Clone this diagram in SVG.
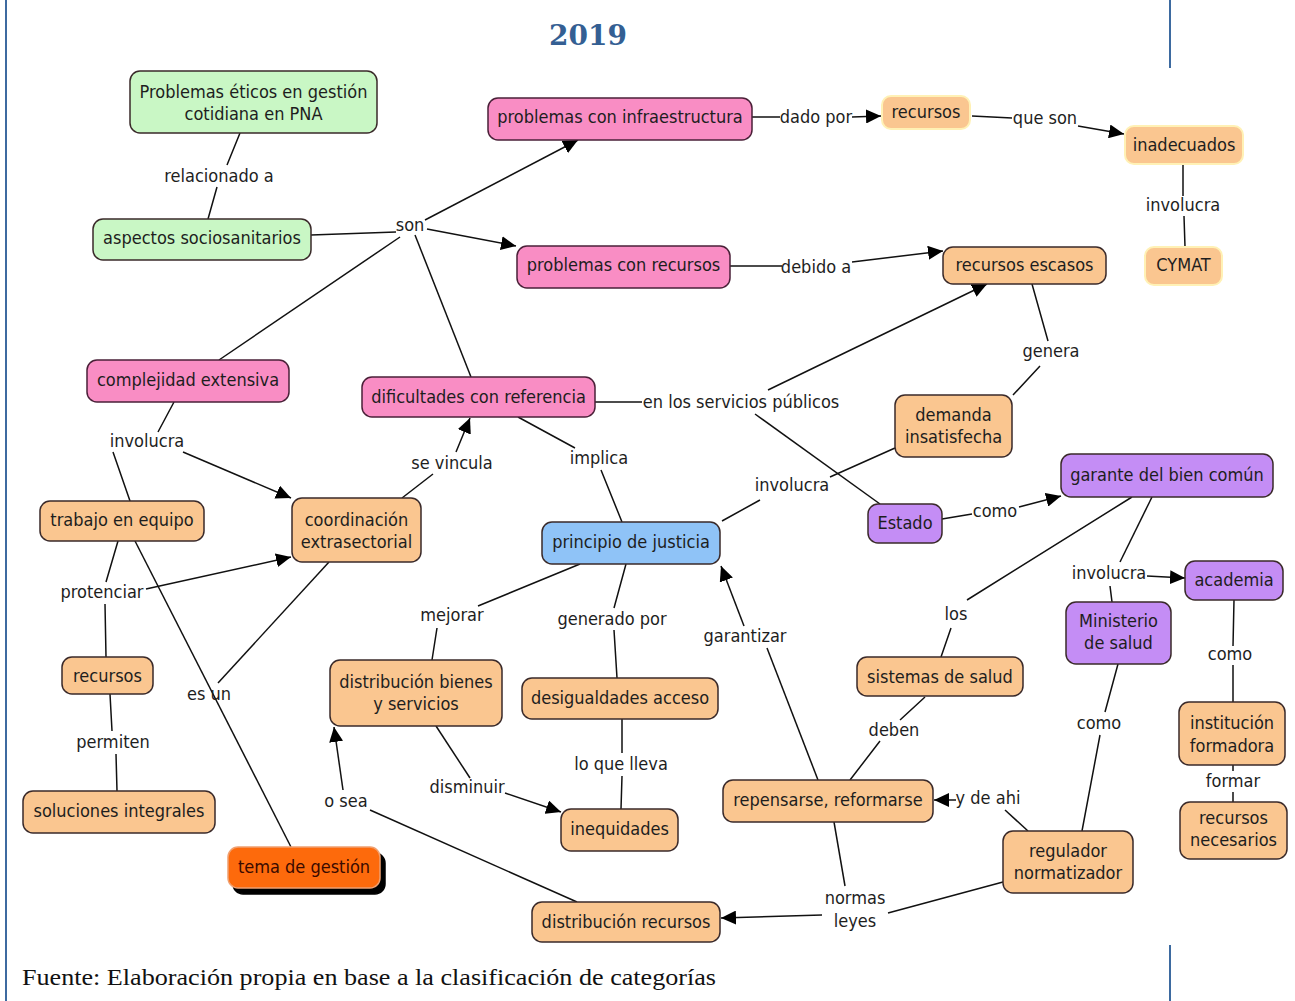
<svg xmlns="http://www.w3.org/2000/svg" width="1295" height="1001" viewBox="0 0 1295 1001">
<style>
.n rect{stroke:#3a2a2a;stroke-width:1.5}
.g rect{fill:#c9f7c5}
.p rect{fill:#f98dc4;stroke:#4a2038}
.o rect{fill:#fac690}
.ol rect{fill:#fac690;stroke:#fff1b5;stroke-width:2}
.b rect{fill:#8fc3f7}
.v rect{fill:#c48df5}
text{font-family:"DejaVu Sans Condensed","DejaVu Sans",sans-serif;font-size:18px;fill:#1e1e1e}
.n text{text-anchor:middle}
.l{text-anchor:middle}
#conn path{fill:none;stroke:#111;stroke-width:1.5}
</style>
<defs>
<marker id="ah" markerUnits="userSpaceOnUse" markerWidth="16" markerHeight="14" refX="15" refY="7" orient="auto">
<path d="M0,0 L15,7 L0,14 z" fill="#000"/>
</marker>
</defs>
<rect width="1295" height="1001" fill="#fff"/>
<line x1="6" y1="0" x2="6" y2="1001" stroke="#3d6aa0" stroke-width="2"/>
<line x1="1170" y1="0" x2="1170" y2="68" stroke="#3d6aa0" stroke-width="2"/>
<line x1="1170" y1="945" x2="1170" y2="1001" stroke="#3d6aa0" stroke-width="2"/>
<text x="588" y="45" style="font-family:'DejaVu Serif','Liberation Serif',serif;font-size:28px;font-weight:bold;fill:#345f93;text-anchor:middle">2019</text>
<text x="22" y="985" textLength="694" lengthAdjust="spacingAndGlyphs" style="font-family:'Liberation Serif',serif;font-size:23px;fill:#111">Fuente: Elaboración propia en base a la clasificación de categorías</text>

<g id="conn">
<path d="M240,133 L227,165 M217,187 L208,219"/>
<path d="M311,235 L396,232"/>
<path d="M425,220 L578,140" marker-end="url(#ah)"/>
<path d="M427,229 L516,246" marker-end="url(#ah)"/>
<path d="M400,237 L219,360"/>
<path d="M415,235 L471,377"/>
<path d="M752,117 L780,117"/>
<path d="M852,117 L881,116" marker-end="url(#ah)"/>
<path d="M972,116 L1012,118"/>
<path d="M1078,126 L1124,134" marker-end="url(#ah)"/>
<path d="M1183,164 L1183,196 M1184,216 L1185,247"/>
<path d="M730,266 L782,266"/>
<path d="M852,262 L943,251" marker-end="url(#ah)"/>
<path d="M1032,284 L1048,341 M1040,366 L1013,395"/>
<path d="M595,402 L642,402"/>
<path d="M768,390 L987,284" marker-end="url(#ah)"/>
<path d="M755,414 L880,504"/>
<path d="M174,402 L158,432 M113,452 L130,501"/>
<path d="M183,452 L291,498" marker-end="url(#ah)"/>
<path d="M402,498 L433,474"/>
<path d="M456,452 L470,418" marker-end="url(#ah)"/>
<path d="M518,417 L575,448 M601,470 L622,522"/>
<path d="M722,521 L760,500 M830,477 L895,448"/>
<path d="M942,519 L972,514"/>
<path d="M1019,507 L1061,496" marker-end="url(#ah)"/>
<path d="M1152,497 L1120,562"/>
<path d="M1147,576 L1185,578" marker-end="url(#ah)"/>
<path d="M1110,586 L1112,602"/>
<path d="M1132,497 L967,600 M951,628 L941,657"/>
<path d="M1234,600 L1233,646 M1233,665 L1233,702"/>
<path d="M1233,765 L1233,771 M1233,792 L1233,802"/>
<path d="M1118,664 L1105,712 M1100,735 L1082,831"/>
<path d="M118,541 L106,582 M105,604 L106,657"/>
<path d="M146,589 L291,557" marker-end="url(#ah)"/>
<path d="M135,541 L291,847"/>
<path d="M329,562 L218,683"/>
<path d="M110,694 L112,731 M116,754 L117,791"/>
<path d="M580,564 L478,606 M437,628 L432,660"/>
<path d="M626,564 L614,608 M614,630 L617,678"/>
<path d="M622,719 L622,753 M622,776 L621,809"/>
<path d="M436,726 L470,778"/>
<path d="M505,793 L561,812" marker-end="url(#ah)"/>
<path d="M577,902 L370,810"/>
<path d="M343,790 L334,727" marker-end="url(#ah)"/>
<path d="M818,780 L767,648"/>
<path d="M744,626 L721,566" marker-end="url(#ah)"/>
<path d="M925,697 L900,720 M880,741 L850,780"/>
<path d="M1028,831 L1005,810"/>
<path d="M956,800 L934,800" marker-end="url(#ah)"/>
<path d="M834,822 L845,886"/>
<path d="M1003,882 L888,913"/>
<path d="M822,915 L721,918" marker-end="url(#ah)"/>
</g>

<g id="labels">
<text class="l" x="219" y="182">relacionado a</text>
<text class="l" x="410" y="231">son</text>
<text class="l" x="816" y="123">dado por</text>
<text class="l" x="1045" y="124">que son</text>
<text class="l" x="1183" y="211">involucra</text>
<text class="l" x="816" y="273">debido a</text>
<text class="l" x="1051" y="357">genera</text>
<text class="l" x="741" y="408">en los servicios públicos</text>
<text class="l" x="147" y="447">involucra</text>
<text class="l" x="452" y="469">se vincula</text>
<text class="l" x="599" y="464">implica</text>
<text class="l" x="792" y="491">involucra</text>
<text class="l" x="995" y="517">como</text>
<text class="l" x="1109" y="579">involucra</text>
<text class="l" x="102" y="598">protenciar</text>
<text class="l" x="452" y="621">mejorar</text>
<text class="l" x="612" y="625">generado por</text>
<text class="l" x="745" y="642">garantizar</text>
<text class="l" x="956" y="620">los</text>
<text class="l" x="1230" y="660">como</text>
<text class="l" x="209" y="700">es un</text>
<text class="l" x="113" y="748">permiten</text>
<text class="l" x="1099" y="729">como</text>
<text class="l" x="894" y="736">deben</text>
<text class="l" x="621" y="770">lo que lleva</text>
<text class="l" x="467" y="793">disminuir</text>
<text class="l" x="346" y="807">o sea</text>
<text class="l" x="988" y="804">y de ahi</text>
<text class="l" x="1233" y="787">formar</text>
<text class="l" x="855" y="904">normas</text>
<text class="l" x="855" y="927">leyes</text>
</g>

<g id="n1" class="n g"><rect x="130" y="71" width="247" height="62" rx="10"/><text x="253.5" y="98">Problemas éticos en gestión</text><text x="253.5" y="120">cotidiana en PNA</text></g>
<g id="n2" class="n g"><rect x="93" y="219" width="218" height="41" rx="10"/><text x="202" y="244">aspectos sociosanitarios</text></g>
<g id="n3" class="n p"><rect x="488" y="98" width="264" height="42" rx="10"/><text x="620" y="123">problemas con infraestructura</text></g>
<g id="n4" class="n ol"><rect x="882" y="96" width="88" height="33" rx="9"/><text x="926" y="118">recursos</text></g>
<g id="n5" class="n ol"><rect x="1125" y="126" width="118" height="38" rx="9"/><text x="1184" y="151">inadecuados</text></g>
<g id="n6" class="n ol"><rect x="1145" y="247" width="77" height="38" rx="9"/><text x="1183.5" y="271">CYMAT</text></g>
<g id="n7" class="n p"><rect x="517" y="246" width="213" height="42" rx="10"/><text x="623.5" y="271">problemas con recursos</text></g>
<g id="n8" class="n o"><rect x="943" y="247" width="163" height="37" rx="10"/><text x="1024.5" y="271">recursos escasos</text></g>
<g id="n9" class="n p"><rect x="87" y="360" width="202" height="42" rx="10"/><text x="188" y="386">complejidad extensiva</text></g>
<g id="n10" class="n p"><rect x="362" y="377" width="233" height="40" rx="10"/><text x="478.5" y="403">dificultades con referencia</text></g>
<g id="n11" class="n o"><rect x="895" y="395" width="117" height="62" rx="10"/><text x="953.5" y="421">demanda</text><text x="953.5" y="443">insatisfecha</text></g>
<g id="n12" class="n o"><rect x="40" y="501" width="164" height="40" rx="10"/><text x="122" y="526">trabajo en equipo</text></g>
<g id="n13" class="n o"><rect x="292" y="498" width="129" height="64" rx="10"/><text x="356.5" y="526">coordinación</text><text x="356.5" y="548">extrasectorial</text></g>
<g id="n14" class="n b"><rect x="542" y="522" width="178" height="42" rx="10"/><text x="631" y="548">principio de justicia</text></g>
<g id="n15" class="n v"><rect x="868" y="504" width="74" height="39" rx="10"/><text x="905" y="529">Estado</text></g>
<g id="n16" class="n v"><rect x="1061" y="454" width="212" height="43" rx="10"/><text x="1167" y="481">garante del bien común</text></g>
<g id="n17" class="n v"><rect x="1185" y="561" width="98" height="39" rx="10"/><text x="1234" y="586">academia</text></g>
<g id="n18" class="n v"><rect x="1066" y="602" width="105" height="62" rx="10"/><text x="1118.5" y="627">Ministerio</text><text x="1118.5" y="649">de salud</text></g>
<g id="n19" class="n o"><rect x="62" y="657" width="91" height="37" rx="10"/><text x="107.5" y="682">recursos</text></g>
<g id="n20" class="n o"><rect x="330" y="660" width="172" height="66" rx="10"/><text x="416" y="688">distribución bienes</text><text x="416" y="710">y servicios</text></g>
<g id="n21" class="n o"><rect x="522" y="678" width="196" height="41" rx="10"/><text x="620" y="704">desigualdades acceso</text></g>
<g id="n22" class="n o"><rect x="857" y="657" width="166" height="39" rx="10"/><text x="940" y="683">sistemas de salud</text></g>
<g id="n23" class="n o"><rect x="1179" y="702" width="106" height="63" rx="10"/><text x="1232" y="729">institución</text><text x="1232" y="752">formadora</text></g>
<g id="n24" class="n o"><rect x="23" y="791" width="192" height="42" rx="10"/><text x="119" y="817">soluciones integrales</text></g>
<g id="n25" class="n o"><rect x="723" y="780" width="210" height="42" rx="10"/><text x="828" y="806">repensarse, reformarse</text></g>
<g id="n26" class="n o"><rect x="561" y="809" width="117" height="42" rx="10"/><text x="619.5" y="835">inequidades</text></g>
<g id="n27" class="n"><rect x="233" y="853" width="152" height="41" rx="10" style="fill:#000;stroke:#000"/><rect x="228" y="847" width="152" height="41" rx="10" style="fill:#fd6a0c;stroke:#f0a070"/><text x="304" y="873" style="fill:#3a0a00">tema de gestión</text></g>
<g id="n28" class="n o"><rect x="1003" y="831" width="130" height="62" rx="10"/><text x="1068" y="857">regulador</text><text x="1068" y="879">normatizador</text></g>
<g id="n29" class="n o"><rect x="1180" y="802" width="107" height="57" rx="10"/><text x="1233.5" y="824">recursos</text><text x="1233.5" y="846">necesarios</text></g>
<g id="n30" class="n o"><rect x="532" y="902" width="188" height="40" rx="10"/><text x="626" y="928">distribución recursos</text></g>
</svg>
